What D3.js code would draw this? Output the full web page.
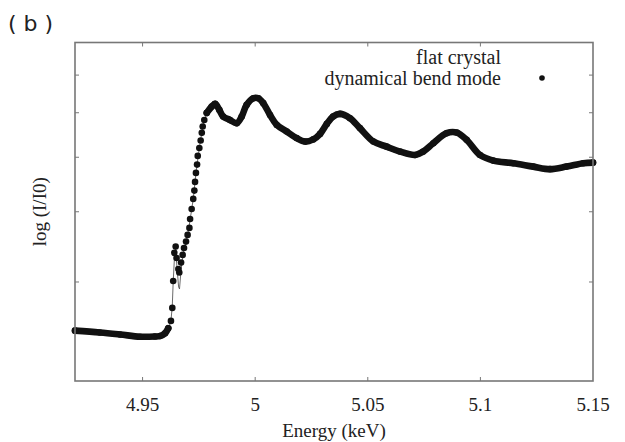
<!DOCTYPE html>
<html>
<head>
<meta charset="utf-8">
<script src="https://cdn.jsdelivr.net/npm/d3@7"></script>
<style>
  body { margin: 0; background: #fff; }
  svg text { font-family: "Liberation Serif", "Times New Roman", serif; fill: #222; }
</style>
</head>
<body>
<div class="chartContainer"></div>
<script>
// x ticks (keV), y ticks (I/I0, log axis, unlabelled)
var xTicks = [4.95, 5.0, 5.05, 5.1, 5.15];
var xTickLabels = ["4.95", "5", "5.05", "5.1", "5.15"];
var yTicks = [1.5, 2, 2.5, 3, 3.5];

// dynamical bend mode (dots)
var bendEnergy = [4.920, 4.931, 4.940, 4.9489, 4.9555, 4.9577, 4.9600, 4.9614,
    4.9626, 4.9632, 4.9636, 4.9641, 4.9647, 4.9651, 4.9659, 4.9663, 4.9671, 4.9678,
    4.9684, 4.9693, 4.9700, 4.9708, 4.9711, 4.9718, 4.9725, 4.9730, 4.9733, 4.9737,
    4.9742, 4.9745, 4.9752, 4.9758, 4.9763, 4.9767, 4.9774,
    4.9785, 4.9807, 4.9822, 4.9841, 4.9858, 4.9888, 4.9918, 4.9940, 4.9962, 4.9992,
    5.0014, 5.0036, 5.0066, 5.0096, 5.0140, 5.0184, 5.0221, 5.0258, 5.0288, 5.0318,
    5.0346, 5.0377, 5.0421, 5.0465, 5.0525, 5.0584, 5.0643, 5.0710, 5.0746, 5.0791, 5.0850,
    5.0895, 5.0939, 5.0998, 5.1057, 5.1146, 5.1235, 5.1309, 5.1383, 5.1457, 5.1500];
var bendValue = [1.229, 1.220, 1.210, 1.199, 1.200, 1.202, 1.216, 1.241,
    1.279, 1.349, 1.506, 1.690, 1.734, 1.655, 1.582, 1.559, 1.624, 1.676,
    1.724, 1.770, 1.819, 1.872, 1.942, 2.023, 2.108, 2.181, 2.260, 2.345,
    2.426, 2.514, 2.597, 2.677, 2.763, 2.835, 2.913,
    2.998, 3.077, 3.111, 3.035, 2.953, 2.913, 2.874, 2.953, 3.098, 3.184,
    3.184, 3.120, 2.973, 2.854, 2.778, 2.704, 2.666, 2.690, 2.751, 2.866,
    2.954, 2.986, 2.934, 2.817, 2.666, 2.611, 2.559, 2.524, 2.559, 2.648, 2.759,
    2.766, 2.685, 2.524, 2.466, 2.440, 2.406, 2.381, 2.406, 2.440, 2.446];

// flat crystal (thin line)
var flatEnergy = [4.920, 4.940, 4.9577, 4.9600, 4.9614, 4.9626, 4.9632, 4.9636,
    4.9642, 4.9647, 4.9653, 4.9660, 4.9664, 4.9671, 4.9678, 4.9684, 4.9693, 4.9701,
    4.9711, 4.9725, 4.9737, 4.9752, 4.9767, 4.9785, 4.9807, 4.9822, 4.9841, 4.9858,
    4.9888, 4.9918, 4.9940, 4.9962, 4.9992, 5.0014, 5.0036, 5.0066, 5.0096, 5.0140,
    5.0184, 5.0221, 5.0258, 5.0288, 5.0318, 5.0346, 5.0377, 5.0421, 5.0465, 5.0525, 5.0584,
    5.0643, 5.0710, 5.0746, 5.0791, 5.0850, 5.0895, 5.0939, 5.0998, 5.1057, 5.1146,
    5.1235, 5.1309, 5.1383, 5.1457, 5.1500];
var flatValue = [1.232, 1.207, 1.200, 1.212, 1.238, 1.279, 1.360, 1.501,
    1.669, 1.710, 1.589, 1.470, 1.458, 1.576, 1.655, 1.718, 1.768, 1.826,
    1.934, 2.108, 2.345, 2.597, 2.835, 3.010, 3.090, 3.144, 3.048, 2.950,
    2.901, 2.866, 2.950, 3.111, 3.201, 3.201, 3.137, 2.986, 2.854, 2.773,
    2.695, 2.662, 2.687, 2.755, 2.872, 2.962, 2.998, 2.944, 2.820, 2.646, 2.582,
    2.534, 2.503, 2.545, 2.646, 2.763, 2.769, 2.685, 2.524, 2.463, 2.438,
    2.403, 2.378, 2.403, 2.438, 2.449];

// the steep edge where the points are drawn as separate dots
var edgeRange = [4.9622, 4.9780];

var width = 625, height = 442;
var margin = {left: 75, top: 42.5, right: 32, bottom: 61};
var plotW = width - margin.left - margin.right;
var plotH = height - margin.top - margin.bottom;

var svg = d3.select(".chartContainer")
    .append("svg")
    .attr("width", width)
    .attr("height", height);

var x = d3.scaleLinear().domain([4.92, 5.15]).range([0, plotW]);
var y = d3.scaleLog().domain([1, 4]).range([plotH, 0]);

var g = svg.append("g")
    .attr("transform", "translate(" + margin.left + "," + margin.top + ")");

var bend = bendEnergy.map(function (e, i) { return {e: e, v: bendValue[i]}; });
var flat = flatEnergy.map(function (e, i) { return {e: e, v: flatValue[i]}; });

var line = d3.line()
    .x(function (d) { return x(d.e); })
    .y(function (d) { return y(d.v); });

// flat crystal line underneath
g.append("path")
    .datum(flat)
    .attr("fill", "none")
    .attr("stroke", "#444")
    .attr("stroke-width", 0.8)
    .attr("d", line.curve(d3.curveLinear));

// dense parts of the dot series, dots overlap into a thick band
var before = bend.filter(function (d) { return d.e <= edgeRange[0]; });
var after = bend.filter(function (d) { return d.e >= edgeRange[1]; });
var band = d3.line()
    .x(function (d) { return x(d.e); })
    .y(function (d) { return y(d.v); })
    .curve(d3.curveCatmullRom);
[before, after].forEach(function (seg) {
    g.append("path")
        .datum(seg)
        .attr("fill", "none")
        .attr("stroke", "#111")
        .attr("stroke-width", 6.6)
        .attr("stroke-linecap", "round")
        .attr("stroke-linejoin", "round")
        .attr("d", band);
});

g.selectAll(".dot")
    .data(bend)
    .enter()
    .append("circle")
    .attr("class", "dot")
    .attr("cx", function (d) { return x(d.e); })
    .attr("cy", function (d) { return y(d.v); })
    .attr("r", 3.3)
    .attr("fill", "#111");

// frame with inward ticks on all sides
var axisColor = "#777";
g.append("rect")
    .attr("width", plotW)
    .attr("height", plotH)
    .attr("fill", "none")
    .attr("stroke", axisColor)
    .attr("stroke-width", 1.6);

var tickLen = 4;
xTicks.slice(0, -1).forEach(function (t) {
    g.append("line").attr("x1", x(t)).attr("x2", x(t))
        .attr("y1", plotH).attr("y2", plotH - tickLen)
        .attr("stroke", axisColor).attr("stroke-width", 1);
    g.append("line").attr("x1", x(t)).attr("x2", x(t))
        .attr("y1", 0).attr("y2", tickLen)
        .attr("stroke", axisColor).attr("stroke-width", 1);
});
yTicks.forEach(function (t) {
    g.append("line").attr("x1", 0).attr("x2", tickLen)
        .attr("y1", y(t)).attr("y2", y(t))
        .attr("stroke", axisColor).attr("stroke-width", 1);
    g.append("line").attr("x1", plotW).attr("x2", plotW - tickLen)
        .attr("y1", y(t)).attr("y2", y(t))
        .attr("stroke", axisColor).attr("stroke-width", 1);
});

g.selectAll(".xlabel")
    .data(xTicks)
    .enter()
    .append("text")
    .attr("class", "xlabel")
    .attr("x", function (d) { return x(d); })
    .attr("y", plotH + 30)
    .attr("text-anchor", "middle")
    .style("font-size", "19px")
    .text(function (d, i) { return xTickLabels[i]; });

svg.append("text")
    .attr("x", margin.left + plotW / 2)
    .attr("y", 437)
    .attr("text-anchor", "middle")
    .style("font-size", "19px")
    .text("Energy (keV)");

svg.append("text")
    .attr("transform", "translate(46," + (margin.top + plotH / 2) + ") rotate(-90)")
    .attr("text-anchor", "middle")
    .style("font-size", "19px")
    .text("log (I/I0)");

// legend
svg.append("text")
    .attr("x", 501).attr("y", 64)
    .attr("text-anchor", "end")
    .style("font-size", "20px")
    .text("flat crystal");
svg.append("text")
    .attr("x", 501).attr("y", 85)
    .attr("text-anchor", "end")
    .style("font-size", "20px")
    .text("dynamical bend mode");
svg.append("circle")
    .attr("cx", 542).attr("cy", 78).attr("r", 2.8)
    .attr("fill", "#111");

svg.append("text")
    .attr("x", 8).attr("y", 31)
    .style("font-family", "'DejaVu Sans', sans-serif")
    .style("font-size", "22px")
    .text("( b )");
</script>
</body>
</html>
